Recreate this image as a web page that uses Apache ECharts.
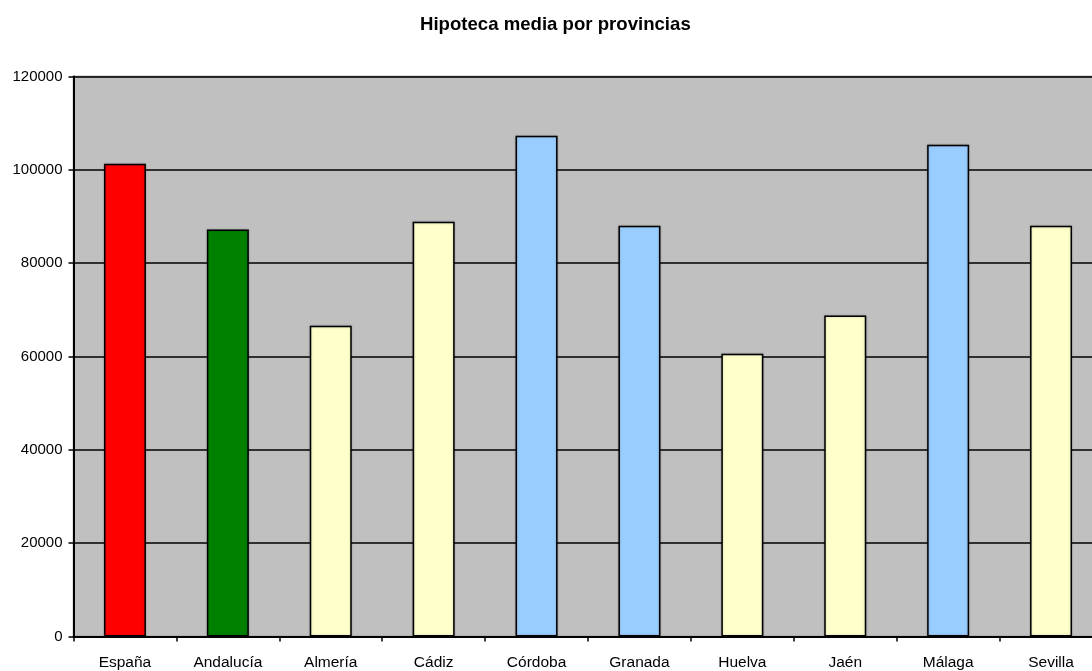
<!DOCTYPE html>
<html>
<head>
<meta charset="utf-8">
<title>Hipoteca media por provincias</title>
<script src="https://cdn.jsdelivr.net/npm/echarts@6/dist/echarts.min.js"></script>
<style>
  html, body { margin: 0; padding: 0; background: #ffffff; overflow: hidden; }
  /* the plot area runs slightly past the right edge of the window */
  #chart { width: 1103px; height: 671px; }
</style>
</head>
<body>
<div id="chart"></div>
<script>
// Categorías (España, la comunidad y sus provincias)
const categories = ['España', 'Andalucía', 'Almería', 'Cádiz', 'Córdoba', 'Granada', 'Huelva', 'Jaén', 'Málaga', 'Sevilla'];
// Importe medio de la hipoteca (€)
const hipotecaMedia = [101300, 87200, 66600, 88900, 107300, 88000, 60600, 68800, 105400, 88000];
// Marcas del eje de valores
const yTicks = [0, 20000, 40000, 60000, 80000, 100000, 120000];

// Color de relleno de cada barra
const barColors = ['#FF0000', '#008000', '#FFFFCC', '#FFFFCC', '#99CCFF', '#99CCFF', '#FFFFCC', '#FFFFCC', '#99CCFF', '#FFFFCC'];

const FONT = 'Liberation Sans, Arial, sans-serif';

const chart = echarts.init(document.getElementById('chart'), null, { renderer: 'canvas' });

chart.setOption({
  animation: false,
  backgroundColor: '#ffffff',
  graphic: [{
    type: 'text',
    left: 420,
    top: 15,
    style: {
      text: 'Hipoteca media por provincias',
      font: 'bold 18.6px ' + FONT,
      fill: '#000000'
    }
  }],
  grid: {
    left: 73.5,
    top: 76.5,
    bottom: 34.5,
    right: 0.5,
    show: true,
    backgroundColor: '#C0C0C0',
    borderColor: '#808080',
    borderWidth: 1.5
  },
  xAxis: {
    type: 'category',
    data: categories,
    axisLine: { lineStyle: { color: '#000000', width: 2 } },
    axisTick: { show: true, inside: false, length: 5, lineStyle: { color: '#000000', width: 1.5 } },
    axisLabel: { color: '#000000', fontFamily: FONT, fontSize: 15.5, margin: 18 },
    splitLine: { show: false }
  },
  yAxis: {
    type: 'value',
    min: yTicks[0],
    max: yTicks[yTicks.length - 1],
    interval: yTicks[1] - yTicks[0],
    axisLine: { show: true, lineStyle: { color: '#000000', width: 2 } },
    axisTick: { show: true, inside: false, length: 5, lineStyle: { color: '#000000', width: 1.5 } },
    axisLabel: {
      color: '#000000', fontFamily: FONT, fontSize: 15, margin: 11,
      formatter: (v) => String(v)
    },
    splitLine: { show: true, lineStyle: { color: '#000000', width: 1.5 } }
  },
  series: [{
    type: 'bar',
    barWidth: 42,
    data: hipotecaMedia.map((v, i) => ({
      value: v,
      itemStyle: { color: barColors[i] }
    })),
    itemStyle: {
      borderColor: '#000000',
      borderWidth: 1.5,
      shadowColor: 'rgba(0,0,0,0.25)',
      shadowBlur: 2
    }
  }]
});
</script>
</body>
</html>
